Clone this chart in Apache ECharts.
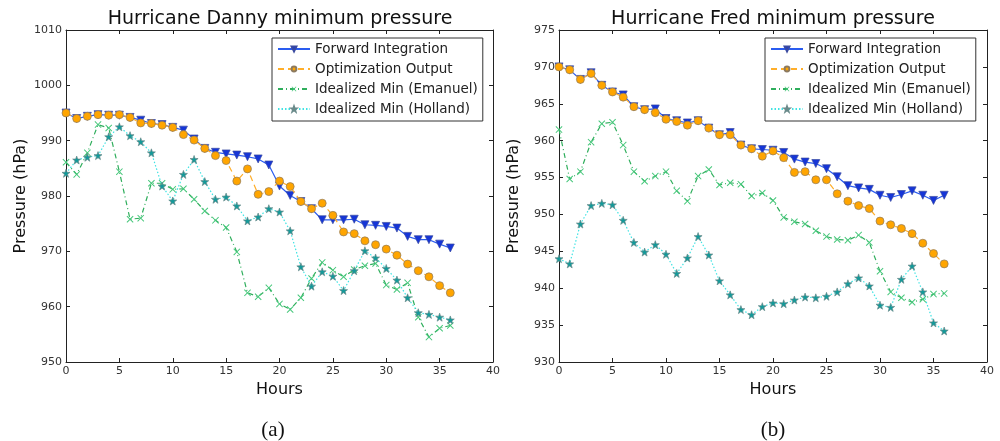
<!DOCTYPE html>
<html>
<head>
<meta charset="utf-8">
<script src="https://cdn.jsdelivr.net/npm/echarts@6/dist/echarts.min.js"></script>
<style>
  html, body { margin: 0; padding: 0; background: #fff; }
  #chart { width: 1000px; height: 441px; }
</style>
</head>
<body>
<div id="chart"></div>
<script>
const hours = [0,1,2,3,4,5,6,7,8,9,10,11,12,13,14,15,16,17,18,19,20,21,22,23,24,25,26,27,28,29,30,31,32,33,34,35,36];
const seriesNames = ['Forward Integration', 'Optimization Output', 'Idealized Min (Emanuel)', 'Idealized Min (Holland)'];
const chartTitles = ['Hurricane Danny minimum pressure', 'Hurricane Fred minimum pressure'];
const captions = ['(a)', '(b)'];
const xTicks = { min: 0, max: 40, interval: 5 };
const dannyTicks = { min: 950, max: 1010, interval: 10 };
const fredTicks = { min: 930, max: 975, interval: 5 };

const dannyForward = [995.0,994.0,994.4,994.7,994.6,994.6,994.2,993.7,993.1,992.9,992.4,991.9,990.3,988.6,987.9,987.6,987.4,987.1,986.7,985.6,981.8,980.1,979.0,977.7,975.7,975.7,975.7,975.8,974.8,974.7,974.5,974.2,972.7,972.1,972.1,971.3,970.6];
const dannyOpt = [995.0,994.0,994.4,994.7,994.6,994.7,994.2,993.2,993.1,992.8,992.4,991.1,990.1,988.6,987.3,986.4,982.7,984.9,980.3,980.8,982.7,981.7,979.0,977.7,978.7,976.5,973.5,973.2,971.9,971.2,970.4,969.3,967.7,966.5,965.4,963.8,962.5];
const dannyEmanuel = [986.1,983.9,987.8,992.9,992.3,984.4,975.8,976.0,982.3,982.3,981.2,981.3,979.4,977.3,975.6,974.3,969.9,962.5,961.8,963.4,960.5,959.5,961.6,965.1,968.0,966.6,965.4,966.7,967.4,967.8,963.9,963.1,964.3,958.1,954.5,956.1,956.6];
const dannyHolland = [984.1,986.5,987.0,987.3,990.7,992.5,990.9,989.8,987.8,981.8,979.1,983.9,986.6,982.6,979.4,979.8,978.2,975.5,976.2,977.7,977.1,973.7,967.2,963.7,966.3,965.5,962.9,966.5,970.1,968.8,966.9,964.8,961.6,958.9,958.6,958.1,957.6];

const fredForward = [970.0,969.6,968.3,969.2,967.5,966.6,966.2,964.6,964.2,964.3,963.0,962.7,962.4,962.7,961.7,960.8,961.1,959.4,958.9,958.8,958.7,958.4,957.5,957.1,956.9,956.2,955.1,953.9,953.6,953.4,952.6,952.3,952.7,953.2,952.6,951.9,952.6];
const fredOpt = [970.0,969.6,968.3,969.1,967.5,966.6,965.9,964.6,964.2,963.8,962.9,962.6,962.1,962.7,961.7,960.8,960.8,959.4,958.9,957.9,958.6,957.7,955.7,955.8,954.7,954.7,952.8,951.8,951.2,950.8,949.1,948.6,948.1,947.4,946.1,944.7,943.3];
const fredEmanuel = [961.5,954.8,955.8,959.8,962.3,962.5,959.4,955.8,954.5,955.2,955.8,953.2,951.8,955.2,956.1,954.0,954.3,954.1,952.5,952.9,951.9,949.6,949.0,948.7,947.8,947.0,946.6,946.5,947.2,946.2,942.3,939.5,938.7,938.1,938.5,939.2,939.3];
const fredHolland = [944.0,943.3,948.7,951.2,951.5,951.3,949.2,946.2,944.9,945.9,944.6,942.0,944.1,947.0,944.5,941.0,939.1,937.1,936.4,937.5,938.0,937.9,938.4,938.8,938.7,938.9,939.5,940.6,941.4,940.3,937.7,937.4,941.2,943.0,939.5,935.3,934.2];

const STAR = 'path://M50,0L61.76,33.82L97.55,34.55L69.02,56.18L79.39,90.45L50,70L20.61,90.45L30.98,56.18L2.45,34.55L38.24,33.82Z';
const XMARK = 'path://M0,1L1,0L5,4L9,0L10,1L6,5L10,9L9,10L5,6L1,10L0,9L4,5Z';

const styles = [
  { symbol: 'triangle', symbolRotate: 180, symbolSize: 8, color: '#1535d8', border: '#3a4aa0', line: '#2a5cf0', type: 'solid' },
  { symbol: 'circle', symbolRotate: 0, symbolSize: 8, color: '#ffa500', border: '#8c7a60', line: '#ffae2a', type: [6, 4] },
  { symbol: XMARK, symbolRotate: 0, symbolSize: 7, color: '#45c77a', border: '#45c77a', line: '#2fae5c', type: [5, 3, 1, 3] },
  { symbol: STAR, symbolRotate: 0, symbolSize: 8, color: '#129a9a', border: '#6a8a8a', line: '#3fe3e3', type: [1.5, 2] }
];

function pairs(vals) { return hours.map((h, i) => [h, vals[i]]); }

function makeSeries(valsList, axisIdx) {
  return valsList.map((vals, k) => {
    const s = styles[k];
    return {
      name: seriesNames[k],
      type: 'line',
      xAxisIndex: axisIdx,
      yAxisIndex: axisIdx,
      data: pairs(vals),
      symbol: s.symbol,
      symbolRotate: s.symbolRotate,
      symbolSize: s.symbolSize,
      showAllSymbol: true,
      lineStyle: { color: s.line, width: 1.2, type: s.type },
      itemStyle: { color: s.color, borderColor: s.border, borderWidth: k === 2 ? 0 : 0.7 },
      emphasis: { disabled: true },
      z: 2 + k
    };
  });
}

const grids = [
  { left: 66, right: 507, top: 30, bottom: 79 },
  { left: 559, right: 13, top: 30, bottom: 79 }
];
const AX = '#222';
const labelStyle = { color: '#333', fontFamily: 'DejaVu Sans', fontSize: 11, formatter: v => String(v) };

function xAxes(gi) {
  return [
    { gridIndex: gi, type: 'value', position: 'bottom', min: xTicks.min, max: xTicks.max, interval: xTicks.interval,
      name: 'Hours', nameLocation: 'middle', nameGap: 20,
      nameTextStyle: { color: '#111', fontFamily: 'DejaVu Sans', fontSize: 16 },
      axisLine: { onZero: false, lineStyle: { color: AX, width: 1 } },
      axisTick: { inside: true, length: 4, lineStyle: { color: AX } },
      axisLabel: Object.assign({ margin: 4 }, labelStyle), splitLine: { show: false } },
    { gridIndex: gi, type: 'value', position: 'top', min: xTicks.min, max: xTicks.max, interval: xTicks.interval,
      axisLine: { onZero: false, lineStyle: { color: AX, width: 1 } },
      axisTick: { inside: true, length: 4, lineStyle: { color: AX } },
      axisLabel: { show: false }, splitLine: { show: false } }
  ];
}
function yAxes(gi, t) {
  return [
    { gridIndex: gi, type: 'value', position: 'left', min: t.min, max: t.max, interval: t.interval,
      name: 'Pressure (hPa)', nameLocation: 'middle', nameGap: 37,
      nameTextStyle: { color: '#111', fontFamily: 'DejaVu Sans', fontSize: 16 },
      axisLine: { show: true, onZero: false, lineStyle: { color: AX, width: 1 } },
      axisTick: { show: true, inside: true, length: 4, lineStyle: { color: AX } },
      axisLabel: Object.assign({ margin: 4 }, labelStyle), splitLine: { show: false } },
    { gridIndex: gi, type: 'value', position: 'right', min: t.min, max: t.max, interval: t.interval,
      axisLine: { show: true, onZero: false, lineStyle: { color: AX, width: 1 } },
      axisTick: { show: true, inside: true, length: 4, lineStyle: { color: AX } },
      axisLabel: { show: false }, splitLine: { show: false } }
  ];
}

function legendAt(left) {
  return {
    orient: 'vertical', left: left, top: 38,
    data: seriesNames,
    itemWidth: 32, itemHeight: 6, itemGap: 6,
    padding: [4, 5, 5, 5],
    backgroundColor: '#fff',
    borderColor: '#333', borderWidth: 1, borderRadius: 0,
    selectedMode: false,
    textStyle: { color: '#222', fontFamily: 'DejaVu Sans', fontSize: 13.5, lineHeight: 14 }
  };
}

const chart = echarts.init(document.getElementById('chart'), null, { renderer: 'canvas' });
chart.setOption({
  animation: false,
  backgroundColor: '#fff',
  grid: grids,
  xAxis: xAxes(0).concat(xAxes(1)),
  yAxis: yAxes(0, dannyTicks).concat(yAxes(1, fredTicks)),
  legend: [legendAt(272), legendAt(765)],
  series: makeSeries([dannyForward, dannyOpt, dannyEmanuel, dannyHolland], 0)
    .concat(makeSeries([fredForward, fredOpt, fredEmanuel, fredHolland], 2)),
  graphic: [
    { type: 'text', x: 280, y: 19, style: { text: chartTitles[0], align: 'center', verticalAlign: 'middle', fill: '#111', font: '19px "DejaVu Sans"' } },
    { type: 'text', x: 773, y: 19, style: { text: chartTitles[1], align: 'center', verticalAlign: 'middle', fill: '#111', font: '19px "DejaVu Sans"' } },
    { type: 'text', x: 273, y: 430, style: { text: captions[0], align: 'center', verticalAlign: 'middle', fill: '#111', font: '21px "Liberation Serif"' } },
    { type: 'text', x: 773, y: 430, style: { text: captions[1], align: 'center', verticalAlign: 'middle', fill: '#111', font: '21px "Liberation Serif"' } }
  ]
});
</script>
</body>
</html>
